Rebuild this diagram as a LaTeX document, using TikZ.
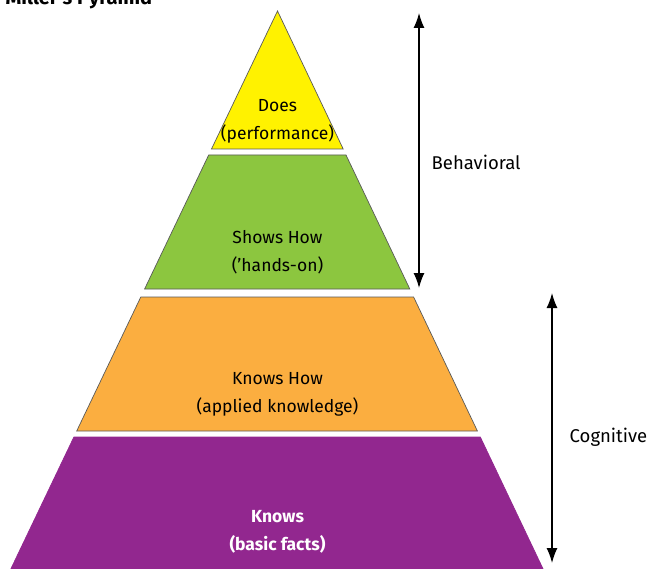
\documentclass[tikz,border=0pt]{standalone}
\usepackage{fontspec}
\setmainfont{Fira Sans}
\usetikzlibrary{arrows.meta}
\definecolor{doesyellow}{HTML}{FFF200}
\definecolor{showsgreen}{HTML}{8CC63F}
\definecolor{knowsorange}{HTML}{FBAE40}
\definecolor{knowspurple}{HTML}{92278F}
\begin{document}
\begin{tikzpicture}[x=1pt,y=-1pt,>={Latex[length=15pt,width=11pt]},line width=1.4pt,
  layer/.style={draw=black!65,line width=0.7pt},
  lbl/.style={align=center,inner sep=0pt,font=\fontsize{17.5}{28}\selectfont}]
\useasboundingbox (0,0) rectangle (647,569);
\node[anchor=base west,inner sep=0pt,font=\fontsize{20}{22}\selectfont\bfseries] (title) at (5,5) {Miller's Pyramid};
% the four layers
\filldraw[layer,fill=doesyellow] (277.5,11)--(343.2,149)--(211.5,149)--cycle;
\filldraw[layer,fill=showsgreen] (208.7,155)--(346,155)--(409.8,289)--(144.6,289)--cycle;
\filldraw[layer,fill=knowsorange] (140.8,297)--(413.6,297)--(477.4,431)--(76.7,431)--cycle;
\filldraw[layer,draw=knowspurple,fill=knowspurple] (73.9,437)--(480.3,437)--(543.1,569)--(10.8,569)--cycle;
\node[lbl] (does) at (277.5,121.5) {Does\\(performance)};
\node[lbl] (shows) at (277.5,252) {Shows How\\(’hands-on)};
\node[lbl] (knowshow) at (277.5,394) {Knows How\\(applied knowledge)};
\node[lbl,text=white,font=\fontsize{17.5}{28}\selectfont\bfseries] (knows) at (277.5,532) {Knows\\(basic facts)};
% the two ranges
\coordinate (behtop) at (419,13);
\coordinate (behbot) at (419,288);
\draw[<->] (behtop)--(behbot);
\node[anchor=west,inner sep=0pt,font=\fontsize{18.5}{20}\selectfont] (behav) at (431,162) {Behavioral};
\coordinate (cogtop) at (552,293);
\coordinate (cogbot) at (552,563);
\draw[<->] (cogtop)--(cogbot);
\node[anchor=west,inner sep=0pt,font=\fontsize{18.5}{20}\selectfont] (cogn) at (569,437) {Cognitive};
\end{tikzpicture}
\end{document}
